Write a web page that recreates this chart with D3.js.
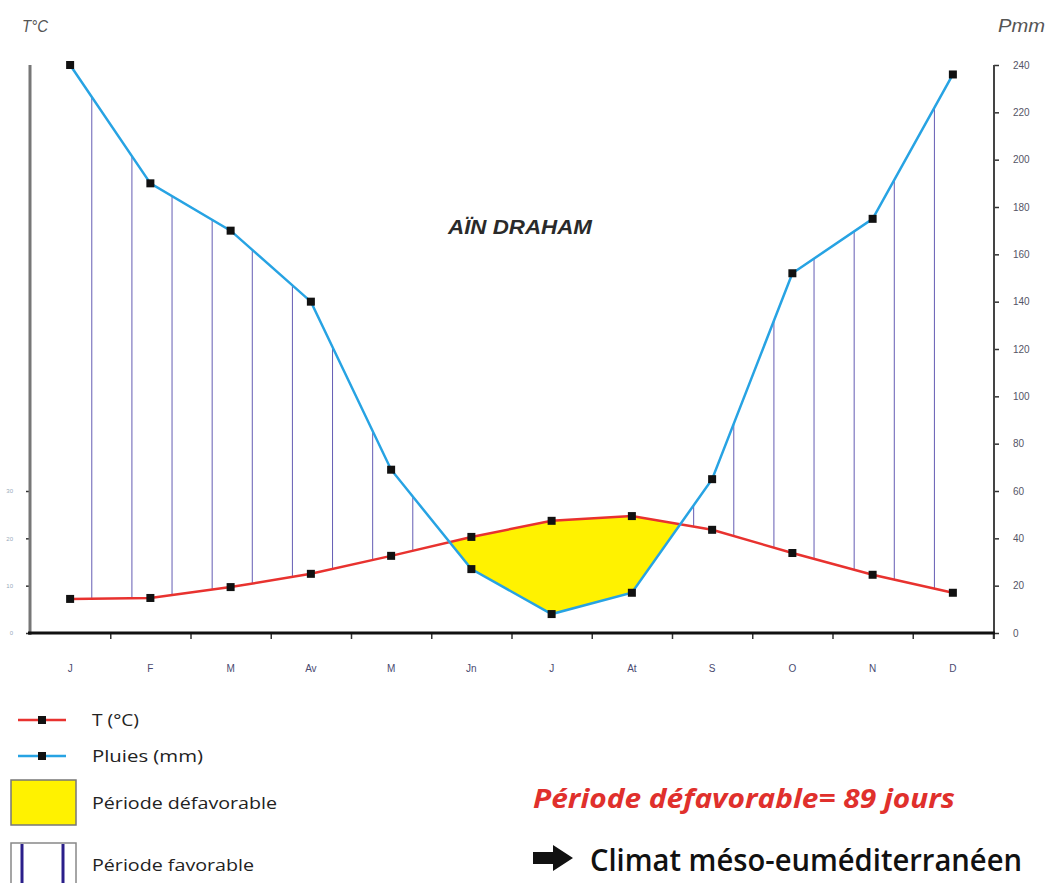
<!DOCTYPE html>
<html><head><meta charset="utf-8">
<script src="https://cdn.jsdelivr.net/npm/d3@7"></script>
<style>html,body{margin:0;padding:0;background:#fff}svg{display:block}</style>
</head><body>
<svg id="c" width="1050" height="883"></svg>
<script>
const months = ["J","F","M","Av","M","Jn","J","At","S","O","N","D"];
const pluies = [240,190,170,140,69,27,8,17,65,152,175,236];
const temperature = [7.2,7.4,9.7,12.5,16.3,20.3,23.7,24.7,21.8,16.9,12.3,8.5];
const pTicks = [0,20,40,60,80,100,120,140,160,180,200,220,240];
const tTicks = [0,10,20,30];
const legendItems = ["T (°C)","Pluies (mm)","Période défavorable","Période favorable"];

const svg = d3.select("#c");
const L=30,R=993,T=65,B=633;
const x = d3.scaleBand().domain(d3.range(12)).range([L,R]);
const xc = i => x(i)+x.bandwidth()/2;
const xf = d3.scaleLinear().domain([0,11]).range([xc(0),xc(11)]);
const yP = d3.scaleLinear().domain([0,240]).range([B,T]);
const yT = d3.scaleLinear().domain([0,120]).range([B,T]);
const red="#e8322f", blue="#27a3e3";

// yellow fill: region between temp (above) and precip (below)
const defs = svg.append("defs");
defs.append("clipPath").attr("id","belowT").append("path")
  .attr("d", d3.area().x((d,i)=>xc(i)).y0(B).y1(d=>yT(d))(temperature));
svg.append("path").attr("clip-path","url(#belowT)")
  .attr("d", d3.area().x((d,i)=>xc(i)).y0(T-10).y1(d=>yP(d))(pluies))
  .attr("fill","#fff200");

// hatch lines (favorable period)
function interp(arr,t){const i=Math.min(Math.floor(t),10);const f=t-i;return arr[i]+(arr[i+1]-arr[i])*f;}
const hatch=[];
for(let k=0;k<22;k++){const t=0.27+0.5*k;const p=interp(pluies,t), tt=interp(temperature,t);
  if(p>2*tt) hatch.push({t,p,tt});}
svg.append("g").selectAll("line").data(hatch).join("line")
  .attr("x1",d=>xf(d.t)).attr("x2",d=>xf(d.t))
  .attr("y1",d=>yP(d.p)).attr("y2",d=>yT(d.tt))
  .attr("stroke","#4a40a8").attr("stroke-width",1).attr("opacity",0.85);

// axes
const gl = svg.append("g").attr("transform",`translate(${L},0)`)
  .call(d3.axisLeft(yT).tickValues(tTicks).tickSize(4).tickPadding(13).tickFormat(d=>d));
gl.select(".domain").remove();
gl.selectAll("line").attr("stroke","#333").attr("stroke-width",1.5);
gl.selectAll("text").attr("font-size",6).attr("fill","#9ab").attr("font-family","Liberation Sans");
svg.append("line").attr("x1",L).attr("x2",L).attr("y1",T).attr("y2",B+2).attr("stroke","#777").attr("stroke-width",3);

const gr = svg.append("g").attr("transform",`translate(${R+1},0)`)
  .call(d3.axisRight(yP).tickValues(pTicks).tickSize(5).tickPadding(14));
gr.select(".domain").remove();
gr.selectAll("line").attr("stroke","#333").attr("stroke-width",1.5);
gr.selectAll("text").attr("font-size",10).attr("fill","#556").attr("font-family","Liberation Sans Narrow, Liberation Sans");
svg.append("line").attr("x1",R+1).attr("x2",R+1).attr("y1",T).attr("y2",B+6).attr("stroke","#444").attr("stroke-width",2);

const xb = d3.scaleLinear().domain([0,12]).range([L,R]);
const gb = svg.append("g").attr("transform",`translate(0,${B})`)
  .call(d3.axisBottom(xb).tickValues(d3.range(1,13)).tickSize(6).tickFormat(""));
gb.select(".domain").remove();
gb.selectAll("line").attr("stroke","#333").attr("stroke-width",1.5);
svg.append("line").attr("x1",L-2).attr("x2",R+2).attr("y1",B).attr("y2",B).attr("stroke","#111").attr("stroke-width",3);
svg.append("g").selectAll("text").data(months).join("text")
  .attr("x",(d,i)=>xc(i)).attr("y",672).attr("text-anchor","middle")
  .attr("font-size",10).attr("fill","#4a4a70").attr("font-family","Liberation Sans Narrow, Liberation Sans").text(d=>d);

// lines
svg.append("path").attr("d",d3.line().x((d,i)=>xc(i)).y(d=>yT(d))(temperature))
  .attr("fill","none").attr("stroke",red).attr("stroke-width",2.5);
svg.append("path").attr("d",d3.line().x((d,i)=>xc(i)).y(d=>yP(d))(pluies))
  .attr("fill","none").attr("stroke",blue).attr("stroke-width",2.5);
const ms=8;
svg.append("g").selectAll("rect").data(temperature).join("rect")
  .attr("x",(d,i)=>xc(i)-ms/2).attr("y",d=>yT(d)-ms/2).attr("width",ms).attr("height",ms).attr("fill","#111");
svg.append("g").selectAll("rect").data(pluies).join("rect")
  .attr("x",(d,i)=>xc(i)-ms/2).attr("y",d=>yP(d)-ms/2).attr("width",ms).attr("height",ms).attr("fill","#111");

// titles
svg.append("text").attr("x",22).attr("y",32).text("T°C").attr("font-family","Liberation Sans").attr("font-style","italic")
  .attr("font-size",17).attr("fill","#555").attr("textLength",26).attr("lengthAdjust","spacingAndGlyphs");
svg.append("text").attr("x",998).attr("y",32).text("Pmm").attr("font-family","Liberation Sans").attr("font-style","italic")
  .attr("font-size",18).attr("fill","#555").attr("textLength",47).attr("lengthAdjust","spacingAndGlyphs");
svg.append("text").attr("x",448).attr("y",234).text("AÏN DRAHAM").attr("font-family","Liberation Sans").attr("font-style","italic")
  .attr("font-weight","bold").attr("font-size",20).attr("fill","#2a2a2a").attr("textLength",144).attr("lengthAdjust","spacingAndGlyphs");

// legend
const lg = svg.append("g");
const lf = "Open Sans, Liberation Sans";
[[720,red],[756,blue]].forEach(([yy,c])=>{
  lg.append("line").attr("x1",18).attr("x2",66).attr("y1",yy).attr("y2",yy).attr("stroke",c).attr("stroke-width",2.5);
  lg.append("rect").attr("x",38).attr("y",yy-4).attr("width",8).attr("height",8).attr("fill","#111");
});
lg.append("rect").attr("x",11).attr("y",780).attr("width",65).attr("height",45).attr("fill","#fff200").attr("stroke","#777").attr("stroke-width",1.5);
lg.append("rect").attr("x",11).attr("y",843).attr("width",65).attr("height",50).attr("fill","#fff").attr("stroke","#888").attr("stroke-width",1.5);
[22,63].forEach(xx=>lg.append("line").attr("x1",xx).attr("x2",xx).attr("y1",844).attr("y2",883).attr("stroke","#2a1f8a").attr("stroke-width",3));
const ly=[726,762,809,871], lw=[47,111,185,162];
legendItems.forEach((t,i)=>lg.append("text").attr("x",92).attr("y",ly[i]).text(t).attr("font-family",lf)
  .attr("font-size",16).attr("fill","#222").attr("textLength",lw[i]).attr("lengthAdjust","spacingAndGlyphs"));

// notes
svg.append("text").attr("x",533).attr("y",808).text("Période défavorable= 89 jours")
  .attr("font-family",lf).attr("font-style","italic").attr("font-weight","bold").attr("font-size",27)
  .attr("fill","#e0302c").attr("textLength",422).attr("lengthAdjust","spacingAndGlyphs");
svg.append("path").attr("d","M533,852 L553,852 L553,845 L573,858 L553,871 L553,864 L533,864 Z").attr("fill","#111");
svg.append("text").attr("x",590).attr("y",871).text("Climat méso-euméditerranéen")
  .attr("font-family",lf).attr("font-weight","600").attr("font-size",30)
  .attr("fill","#111").attr("textLength",432).attr("lengthAdjust","spacingAndGlyphs");
</script>
</body></html>
